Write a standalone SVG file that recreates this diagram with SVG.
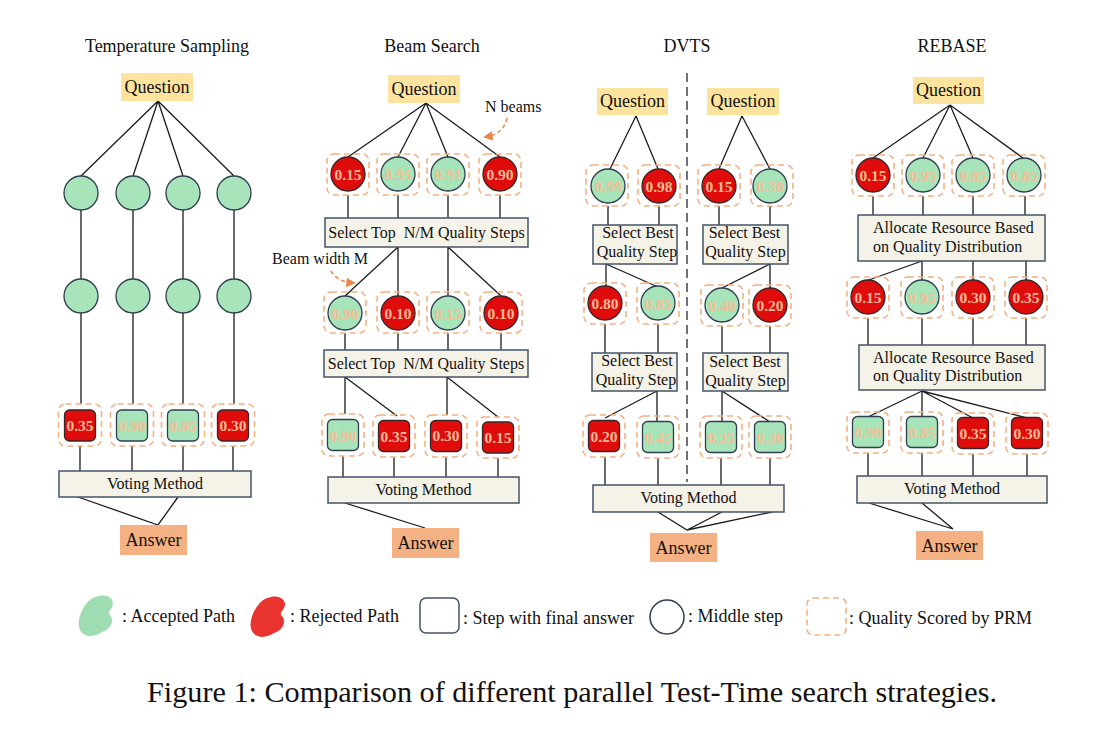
<svg xmlns="http://www.w3.org/2000/svg" width="1104" height="740" viewBox="0 0 1104 740">
<defs>
<style>
text{font-family:"Liberation Serif","Times New Roman",serif;fill:#111}
.title{font-size:18px;text-anchor:middle}
.lbl{font-size:18px;text-anchor:middle}
.bt{font-size:16px;text-anchor:middle}
.ann{font-size:16px}
.leg{font-size:18px}
.cap{font-size:30.2px;text-anchor:middle}
.sv{font-size:15.5px;font-weight:bold;text-anchor:middle;fill:#F5BC95}
.q{fill:#FCE49F}
.ans{fill:#F4B183}
.box{fill:#F5F2E8;stroke:#44546A;stroke-width:1.5}
.ln{stroke:#1c1c1c;stroke-width:1.3;fill:none}
.g{fill:#A8E4BA;stroke:#2E3E4E;stroke-width:1.3}
.r{fill:#E00C0C;stroke:#3A2626;stroke-width:1.3}
.prm{fill:none;stroke:#F4B183;stroke-width:1.6;stroke-dasharray:6 4}
.arr{fill:none;stroke:#E8874A;stroke-width:1.6;stroke-dasharray:4 3}
.div{stroke:#444;stroke-width:1.5;stroke-dasharray:9 5}
</style>
<marker id="ah" viewBox="0 0 10 10" refX="8" refY="5" markerWidth="6" markerHeight="6" orient="auto">
<path d="M0,0 L10,5 L0,10 Z" fill="#E8874A"/>
</marker>
</defs>
<rect width="1104" height="740" fill="#fff"/>

<!-- Titles -->
<text class="title" x="167" y="52">Temperature Sampling</text>
<text class="title" x="432" y="52">Beam Search</text>
<text class="title" x="687" y="52">DVTS</text>
<text class="title" x="952" y="52">REBASE</text>

<!-- Connectors -->
<g id="connectors">
<!-- Temperature -->
<path class="ln" d="M158,101 L81,176 M158,101 L133,176 M158,101 L183,176 M158,101 L234,176"/>
<path class="ln" d="M81,210 V279 M133,210 V279 M183,210 V279 M234,210 V279"/>
<path class="ln" d="M81,313 V404 M133,313 V404 M183,313 V404 M234,313 V404"/>
<path class="ln" d="M80,446 V471 M132,446 V471 M183,446 V471 M233,446 V471"/>
<path class="ln" d="M78,497 L158,525 L178,497"/>
<!-- Beam -->
<path class="ln" d="M426,103 L348,157 M426,103 L398,157 M426,103 L448,157 M426,103 L500,157"/>
<path class="ln" d="M348,195 V218 M398,195 V218 M448,195 V218 M500,195 V218"/>
<path class="ln" d="M398,247 L345,296 M398,247 V296 M448,247 V296 M448,247 L501,296"/>
<path class="ln" d="M345,333 V350 M398,333 V350 M448,333 V350 M501,333 V350"/>
<path class="ln" d="M345,377 V414 M345,377 L397,416 M447,377 V415 M447,377 L498,417"/>
<path class="ln" d="M343,456 V477 M394,457 V477 M446,457 V477 M498,458 V477"/>
<path class="ln" d="M345,503 L425,528"/>
<path class="arr" d="M507,118 Q504,134 485,137" marker-end="url(#ah)"/>
<path class="arr" d="M331,271 Q337,282 354,283" marker-end="url(#ah)"/>
<!-- DVTS -->
<line class="div" x1="687" y1="73" x2="687" y2="482"/>
<path class="ln" d="M636,116 L610,169 M636,116 L658,169 M742,116 L719,169 M742,116 L770,169"/>
<path class="ln" d="M608,206 V225 M659,206 V225 M719,206 V225 M770,206 V225"/>
<path class="ln" d="M606,264 V286 M606,264 L658,287 M770,264 V288 M770,264 L722,288"/>
<path class="ln" d="M605,324 V353 M658,324 V353 M722,326 V353 M770,326 V353"/>
<path class="ln" d="M657,391 V421 M657,391 L605,418 M722,391 V421 M722,391 L770,422"/>
<path class="ln" d="M605,457 V485 M658,458 V485 M721,458 V485 M770,458 V485"/>
<path class="ln" d="M658,512 L687,530 L722,512 M687,530 L772,512"/>
<!-- REBASE -->
<path class="ln" d="M950,105 L873,158 M950,105 L923,158 M950,105 L973,158 M950,105 L1023,158"/>
<path class="ln" d="M873,196 V215 M923,196 V215 M973,196 V215 M1025,196 V215"/>
<path class="ln" d="M922,261 L866,281 M922,261 V280 M973,261 V280 M1026,261 V280"/>
<path class="ln" d="M868,318 V345 M922,318 V345 M973,318 V345 M1026,318 V345"/>
<path class="ln" d="M922,391 L868,417 M922,391 V417 M922,391 L973,418 M922,391 L1027,418"/>
<path class="ln" d="M868,453 V476 M922,453 V476 M973,454 V476 M1027,454 V476"/>
<path class="ln" d="M869,503 L953,529 L922,503"/>
</g>

<!-- ===== Temperature Sampling ===== -->
<g id="ts-question"><rect class="q" x="121" y="73" width="72" height="28"/><text class="lbl" x="157" y="93">Question</text></g>
<g id="ts-a1"><circle class="g" cx="81" cy="193" r="17"/></g>
<g id="ts-a2"><circle class="g" cx="133" cy="193" r="17"/></g>
<g id="ts-a3"><circle class="g" cx="183" cy="193" r="17"/></g>
<g id="ts-a4"><circle class="g" cx="234" cy="193" r="17"/></g>
<g id="ts-b1"><circle class="g" cx="81" cy="296" r="17"/></g>
<g id="ts-b2"><circle class="g" cx="133" cy="296" r="17"/></g>
<g id="ts-b3"><circle class="g" cx="183" cy="296" r="17"/></g>
<g id="ts-b4"><circle class="g" cx="234" cy="296" r="17"/></g>
<g id="ts-c1"><rect class="prm" x="58.5" y="404" width="43" height="42" rx="7"/><rect class="r" x="64.5" y="410" width="31" height="31" rx="5"/><text class="sv" x="80" y="431">0.35</text></g>
<g id="ts-c2"><rect class="prm" x="110.5" y="404" width="43" height="42" rx="7"/><rect class="g" x="116.5" y="410" width="31" height="31" rx="5"/><text class="sv" x="132" y="431">0.90</text></g>
<g id="ts-c3"><rect class="prm" x="161.5" y="404" width="43" height="42" rx="7"/><rect class="g" x="167.5" y="410" width="31" height="31" rx="5"/><text class="sv" x="183" y="431">0.95</text></g>
<g id="ts-c4"><rect class="prm" x="211.5" y="404" width="43" height="42" rx="7"/><rect class="r" x="217.5" y="410" width="31" height="31" rx="5"/><text class="sv" x="233" y="431">0.30</text></g>
<g id="ts-vote"><rect class="box" x="59" y="471" width="192" height="26"/><text class="bt" x="155" y="489">Voting Method</text></g>
<g id="ts-answer"><rect class="ans" x="120" y="525" width="67" height="30"/><text class="lbl" x="153.5" y="546">Answer</text></g>

<!-- ===== Beam Search ===== -->
<g id="bs-question"><rect class="q" x="388" y="75" width="72" height="28"/><text class="lbl" x="424" y="95">Question</text></g>
<text class="ann" x="485" y="112">N beams</text>
<text class="ann" x="272" y="264">Beam width M</text>
<g id="bs-a1"><rect class="prm" x="327" y="154" width="42" height="41" rx="7"/><circle class="r" cx="348" cy="174" r="17"/><text class="sv" x="348" y="179.5">0.15</text></g>
<g id="bs-a2"><rect class="prm" x="377" y="154" width="42" height="41" rx="7"/><circle class="g" cx="398" cy="174" r="17"/><text class="sv" x="398" y="179.5">0.95</text></g>
<g id="bs-a3"><rect class="prm" x="427" y="154" width="42" height="41" rx="7"/><circle class="g" cx="448" cy="174" r="17"/><text class="sv" x="448" y="179.5">0.91</text></g>
<g id="bs-a4"><rect class="prm" x="479" y="154" width="42" height="41" rx="7"/><circle class="r" cx="500" cy="174" r="17"/><text class="sv" x="500" y="179.5">0.90</text></g>
<g id="bs-sel1"><rect class="box" x="325" y="218" width="203" height="29"/><text class="bt" x="426.5" y="238" style="white-space:pre">Select Top  N/M Quality Steps</text></g>
<g id="bs-b1"><rect class="prm" x="324" y="292" width="42" height="41" rx="7"/><circle class="g" cx="345" cy="313" r="17"/><text class="sv" x="345" y="318.5">0.90</text></g>
<g id="bs-b2"><rect class="prm" x="377" y="292" width="42" height="41" rx="7"/><circle class="r" cx="398" cy="313" r="17"/><text class="sv" x="398" y="318.5">0.10</text></g>
<g id="bs-b3"><rect class="prm" x="427" y="292" width="42" height="41" rx="7"/><circle class="g" cx="448" cy="313" r="17"/><text class="sv" x="448" y="318.5">0.15</text></g>
<g id="bs-b4"><rect class="prm" x="480" y="292" width="42" height="41" rx="7"/><circle class="r" cx="501" cy="313" r="17"/><text class="sv" x="501" y="318.5">0.10</text></g>
<g id="bs-sel2"><rect class="box" x="324" y="350" width="204" height="27"/><text class="bt" x="426" y="369" style="white-space:pre">Select Top  N/M Quality Steps</text></g>
<g id="bs-c1"><rect class="prm" x="322" y="414" width="42" height="42" rx="7"/><rect class="g" x="327.5" y="419.5" width="31" height="31" rx="5"/><text class="sv" x="343" y="440.5">0.90</text></g>
<g id="bs-c2"><rect class="prm" x="373" y="415" width="42" height="42" rx="7"/><rect class="r" x="378.5" y="420.5" width="31" height="31" rx="5"/><text class="sv" x="394" y="441.5">0.35</text></g>
<g id="bs-c3"><rect class="prm" x="425" y="415" width="42" height="42" rx="7"/><rect class="r" x="430.5" y="420.5" width="31" height="31" rx="5"/><text class="sv" x="446" y="441">0.30</text></g>
<g id="bs-c4"><rect class="prm" x="477" y="417" width="42" height="41" rx="7"/><rect class="r" x="482.5" y="422" width="31" height="31" rx="5"/><text class="sv" x="498" y="443">0.15</text></g>
<g id="bs-vote"><rect class="box" x="328" y="477" width="191" height="26"/><text class="bt" x="423.5" y="495">Voting Method</text></g>
<g id="bs-answer"><rect class="ans" x="392" y="528" width="67" height="30"/><text class="lbl" x="425.5" y="549">Answer</text></g>

<!-- ===== DVTS ===== -->
<g id="dv-question-l"><rect class="q" x="597" y="88" width="71" height="27"/><text class="lbl" x="632.5" y="107">Question</text></g>
<g id="dv-question-r"><rect class="q" x="707" y="88" width="72" height="27"/><text class="lbl" x="743" y="107">Question</text></g>
<g id="dv-a1"><rect class="prm" x="586" y="165" width="42" height="41" rx="7"/><circle class="g" cx="608" cy="186" r="17"/><text class="sv" x="608" y="191.5">0.99</text></g>
<g id="dv-a2"><rect class="prm" x="638" y="165" width="42" height="41" rx="7"/><circle class="r" cx="659" cy="186" r="17"/><text class="sv" x="659" y="191.5">0.98</text></g>
<g id="dv-a3"><rect class="prm" x="698" y="165" width="42" height="41" rx="7"/><circle class="r" cx="719" cy="186" r="17"/><text class="sv" x="719" y="191.5">0.15</text></g>
<g id="dv-a4"><rect class="prm" x="751" y="165" width="42" height="41" rx="7"/><circle class="g" cx="770" cy="186" r="17"/><text class="sv" x="770" y="191.5">0.30</text></g>
<g id="dv-sel1l"><rect class="box" x="593" y="225" width="84" height="39"/><text class="bt" x="638" y="238">Select Best</text><text class="bt" x="637" y="257">Quality Step</text></g>
<g id="dv-sel1r"><rect class="box" x="703" y="225" width="85" height="39"/><text class="bt" x="744.5" y="238">Select Best</text><text class="bt" x="745.5" y="257">Quality Step</text></g>
<g id="dv-b1"><rect class="prm" x="584" y="283" width="42" height="41" rx="7"/><circle class="r" cx="605" cy="303" r="17"/><text class="sv" x="605" y="308.5">0.80</text></g>
<g id="dv-b2"><rect class="prm" x="637" y="283" width="42" height="41" rx="7"/><circle class="g" cx="658" cy="303" r="17"/><text class="sv" x="658" y="308.5">0.85</text></g>
<g id="dv-b3"><rect class="prm" x="701" y="285" width="42" height="41" rx="7"/><circle class="g" cx="722" cy="305" r="17"/><text class="sv" x="722" y="310.5">0.40</text></g>
<g id="dv-b4"><rect class="prm" x="749" y="285" width="42" height="41" rx="7"/><circle class="r" cx="770" cy="305" r="17"/><text class="sv" x="770" y="310.5">0.20</text></g>
<g id="dv-sel2l"><rect class="box" x="592" y="353" width="85" height="38"/><text class="bt" x="637" y="366">Select Best</text><text class="bt" x="636" y="385">Quality Step</text></g>
<g id="dv-sel2r"><rect class="box" x="703" y="353" width="85" height="38"/><text class="bt" x="745" y="367">Select Best</text><text class="bt" x="745.5" y="386">Quality Step</text></g>
<g id="dv-c1"><rect class="prm" x="583" y="415" width="42" height="42" rx="7"/><rect class="r" x="588.5" y="420.5" width="31" height="31" rx="5"/><text class="sv" x="604" y="441.5">0.20</text></g>
<g id="dv-c2"><rect class="prm" x="637" y="416" width="42" height="42" rx="7"/><rect class="g" x="642.5" y="421.5" width="31" height="31" rx="5"/><text class="sv" x="658" y="442.5">0.45</text></g>
<g id="dv-c3"><rect class="prm" x="700" y="416" width="42" height="42" rx="7"/><rect class="g" x="705.5" y="421.5" width="31" height="31" rx="5"/><text class="sv" x="721" y="442.5">0.35</text></g>
<g id="dv-c4"><rect class="prm" x="749" y="416" width="42" height="42" rx="7"/><rect class="g" x="754.5" y="421.5" width="31" height="31" rx="5"/><text class="sv" x="770" y="442.5">0.30</text></g>
<g id="dv-vote"><rect class="box" x="593" y="485" width="191" height="27"/><text class="bt" x="688.5" y="503">Voting Method</text></g>
<g id="dv-answer"><rect class="ans" x="650" y="533" width="67" height="29"/><text class="lbl" x="683.5" y="554">Answer</text></g>

<!-- ===== REBASE ===== -->
<g id="rb-question"><rect class="q" x="913" y="77" width="71" height="27"/><text class="lbl" x="948.5" y="96">Question</text></g>
<g id="rb-a1"><rect class="prm" x="852" y="155" width="42" height="41" rx="7"/><circle class="r" cx="873" cy="175" r="17"/><text class="sv" x="873" y="180.5">0.15</text></g>
<g id="rb-a2"><rect class="prm" x="902" y="155" width="42" height="41" rx="7"/><circle class="g" cx="923" cy="175" r="17"/><text class="sv" x="923" y="180.5">0.95</text></g>
<g id="rb-a3"><rect class="prm" x="952" y="155" width="42" height="41" rx="7"/><circle class="g" cx="973" cy="175" r="17"/><text class="sv" x="973" y="180.5">0.85</text></g>
<g id="rb-a4"><rect class="prm" x="1003" y="155" width="42" height="41" rx="7"/><circle class="g" cx="1024" cy="175" r="17"/><text class="sv" x="1024" y="180.5">0.85</text></g>
<g id="rb-alloc1"><rect class="box" x="858" y="215" width="187" height="46"/><text class="ann" x="873" y="233">Allocate Resource Based</text><text class="ann" x="873" y="251.5">on Quality Distribution</text></g>
<g id="rb-b1"><rect class="prm" x="847" y="277" width="42" height="41" rx="7"/><circle class="r" cx="868" cy="297" r="17"/><text class="sv" x="868" y="302.5">0.15</text></g>
<g id="rb-b2"><rect class="prm" x="901" y="277" width="42" height="41" rx="7"/><circle class="g" cx="922" cy="297" r="17"/><text class="sv" x="922" y="302.5">0.95</text></g>
<g id="rb-b3"><rect class="prm" x="952" y="277" width="42" height="41" rx="7"/><circle class="r" cx="973" cy="297" r="17"/><text class="sv" x="973" y="302.5">0.30</text></g>
<g id="rb-b4"><rect class="prm" x="1005" y="277" width="42" height="41" rx="7"/><circle class="r" cx="1026" cy="297" r="17"/><text class="sv" x="1026" y="302.5">0.35</text></g>
<g id="rb-alloc2"><rect class="box" x="859" y="345" width="186" height="45"/><text class="ann" x="873" y="363">Allocate Resource Based</text><text class="ann" x="873" y="381">on Quality Distribution</text></g>
<g id="rb-c1"><rect class="prm" x="847" y="412" width="42" height="41" rx="7"/><rect class="g" x="852.5" y="416.5" width="31" height="31" rx="5"/><text class="sv" x="868" y="437.5">0.90</text></g>
<g id="rb-c2"><rect class="prm" x="901" y="412" width="42" height="41" rx="7"/><rect class="g" x="906.5" y="416.5" width="31" height="31" rx="5"/><text class="sv" x="922" y="437.5">0.85</text></g>
<g id="rb-c3"><rect class="prm" x="952" y="413" width="42" height="41" rx="7"/><rect class="r" x="957.5" y="417.5" width="31" height="31" rx="5"/><text class="sv" x="973" y="438.5">0.35</text></g>
<g id="rb-c4"><rect class="prm" x="1006" y="413" width="42" height="41" rx="7"/><rect class="r" x="1011.5" y="417.5" width="31" height="31" rx="5"/><text class="sv" x="1027" y="438.5">0.30</text></g>
<g id="rb-vote"><rect class="box" x="857" y="476" width="190" height="27"/><text class="bt" x="952" y="494">Voting Method</text></g>
<g id="rb-answer"><rect class="ans" x="916" y="531" width="67" height="29"/><text class="lbl" x="949.5" y="552">Answer</text></g>

<!-- ===== Legend ===== -->
<g id="legend">
<path d="M99,596 C107,594 116,599 112,607 C110,611 107,612 110,615 C115,621 110,630 102,632 C95,637 84,638 80,630 C76,622 81,610 87,603 C91,598 95,597 99,596 Z" fill="#9EDCB2"/>
<text class="leg" x="122" y="622">: Accepted Path</text>
<path d="M99,596 C107,594 116,599 112,607 C110,611 107,612 110,615 C115,621 110,630 102,632 C95,637 84,638 80,630 C76,622 81,610 87,603 C91,598 95,597 99,596 Z" fill="#E8332E" transform="translate(172,1)"/>
<text class="leg" x="290" y="622">: Rejected Path</text>
<rect x="420" y="598" width="39" height="35" rx="6" fill="none" stroke="#44546A" stroke-width="1.5"/>
<text class="leg" x="463" y="624">: Step with final answer</text>
<circle cx="667" cy="617" r="17" fill="none" stroke="#2E3E4E" stroke-width="1.5"/>
<text class="leg" x="688" y="622">: Middle step</text>
<rect class="prm" x="807" y="598" width="39" height="37" rx="6"/>
<text class="leg" x="849" y="624">: Quality Scored by PRM</text>
</g>

<text class="cap" x="572" y="702">Figure 1: Comparison of different parallel Test-Time search strategies.</text>
</svg>
